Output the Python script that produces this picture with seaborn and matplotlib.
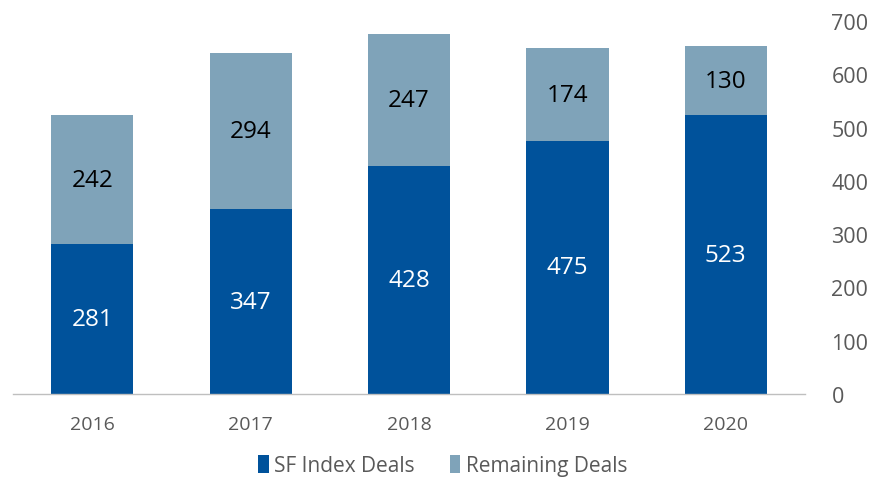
import pandas as pd
import seaborn as sns
import matplotlib.pyplot as plt

# Datos del grafico
years = ["2016", "2017", "2018", "2019", "2020"]
sf_index = [281, 347, 428, 475, 523]
remaining = [242, 294, 247, 174, 130]

dark_blue = "#00529B"
light_blue = "#7FA3B9"

sns.set_theme(style="white")
plt.rcParams['font.family'] = ['Open Sans', 'DejaVu Sans']

df = pd.DataFrame({"year": years, "sf": sf_index, "rem": remaining})
df["total"] = df["sf"] + df["rem"]

fig = plt.figure(figsize=(8.75, 4.81), dpi=100)
ax = fig.add_axes([0.015, 0.179, 0.905, 0.775])

# barras apiladas: total detras, SF delante
sns.barplot(data=df, x="year", y="total", color=light_blue, width=0.52,
            saturation=1, linewidth=0, ax=ax, label="Remaining Deals")
sns.barplot(data=df, x="year", y="sf", color=dark_blue, width=0.52,
            saturation=1, linewidth=0, ax=ax, label="SF Index Deals")

# etiquetas de los segmentos
for i, row in df.iterrows():
    ax.text(i, row["sf"] / 2, str(row["sf"]), ha="center", va="center",
            color="white", fontsize=17.5)
    ax.text(i, row["sf"] + row["rem"] / 2, str(row["rem"]), ha="center",
            va="center", color="black", fontsize=17.5)

ax.set_ylim(0, 700)
ax.set_xlim(-0.5, 4.5)
ax.set_yticks(range(0, 701, 100))
ax.yaxis.tick_right()
ax.tick_params(axis="y", length=0, pad=19, labelsize=15.5, labelcolor="#595959")
ax.tick_params(axis="x", length=0, pad=15, labelsize=14, labelcolor="#595959")
ax.set_xlabel("")
ax.set_ylabel("")
for s in ["top", "left", "right"]:
    ax.spines[s].set_visible(False)
ax.spines["bottom"].set_color("#BFBFBF")
ax.spines["bottom"].set_linewidth(1)

handles, labels = ax.get_legend_handles_labels()
if ax.get_legend() is not None:
    ax.get_legend().remove()
order = [labels.index("SF Index Deals"), labels.index("Remaining Deals")]
fig.legend([handles[k] for k in order], [labels[k] for k in order],
           loc="center", bbox_to_anchor=(0.506, 0.03), ncol=2, frameon=False,
           fontsize=15, handlelength=0.5, handleheight=0.9, handletextpad=0.25,
           columnspacing=1.7, labelcolor="#595959", borderpad=0)

fig.savefig("out.png", dpi=100)
